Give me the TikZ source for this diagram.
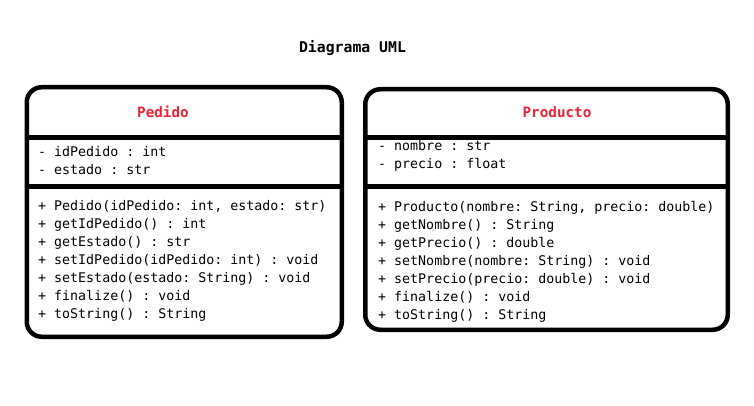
\documentclass[tikz,border=0pt]{standalone}
\usepackage{fontspec}
\setmonofont{DejaVu Sans Mono}
\definecolor{clsred}{HTML}{EE2233}
\begin{document}
\begin{tikzpicture}[x=1pt,y=-1pt,
  umlbox/.style={draw, line width=4.5pt, rounded corners=15pt, inner sep=0pt, anchor=north west},
  divider/.style={line width=4.5pt},
  member/.style={anchor=mid west, inner sep=0pt, font=\ttfamily\fontsize{13.3}{15}\selectfont},
  clsname/.style={anchor=mid, inner sep=0pt, text=clsred, font=\ttfamily\bfseries\fontsize{14.3}{16}\selectfont},
  titlestyle/.style={anchor=mid, inner sep=0pt, font=\ttfamily\bfseries\fontsize{14.8}{17}\selectfont}]
\useasboundingbox (0,0) rectangle (754,406);
\node[titlestyle] (title) at (352.5,50.5) {Diagrama UML};
% Pedido
\node[umlbox, minimum width=315pt, minimum height=249.5pt] (pedido) at (24.5,85) {};
\draw[divider] (24.5,137.5) -- (339.5,137.5);
\draw[divider] (24.5,186.5) -- (339.5,186.5);
\node[clsname] (pedidoname) at (163,115.5) {Pedido};
\node[member] (pa1) at (38,154.5) {- idPedido : int};
\node[member] (pa2) at (38,172.5) {- estado : str};
\node[member] (pm1) at (38,208) {+ Pedido(idPedido: int, estado: str)};
\node[member] (pm2) at (38,226) {+ getIdPedido() : int};
\node[member] (pm3) at (38,244) {+ getEstado() : str};
\node[member] (pm4) at (38,262) {+ setIdPedido(idPedido: int) : void};
\node[member] (pm5) at (38,280) {+ setEstado(estado: String) : void};
\node[member] (pm6) at (38,298) {+ finalize() : void};
\node[member] (pm7) at (38,316) {+ toString() : String};
% Producto
\node[umlbox, minimum width=362.5pt, minimum height=240.5pt] (producto) at (363,87) {};
\draw[divider] (363,137.5) -- (725.5,137.5);
\draw[divider] (363,186.5) -- (725.5,186.5);
\node[clsname] (productoname) at (557,115.5) {Producto};
\node[member] (ra1) at (378,148) {- nombre : str};
\node[member] (ra2) at (378,166) {- precio : float};
\node[member] (rm1) at (378,209.5) {+ Producto(nombre: String, precio: double)};
\node[member] (rm2) at (378,227.5) {+ getNombre() : String};
\node[member] (rm3) at (378,245.5) {+ getPrecio() : double};
\node[member] (rm4) at (378,263.5) {+ setNombre(nombre: String) : void};
\node[member] (rm5) at (378,281.5) {+ setPrecio(precio: double) : void};
\node[member] (rm6) at (378,299.5) {+ finalize() : void};
\node[member] (rm7) at (378,317.5) {+ toString() : String};
\end{tikzpicture}
\end{document}
